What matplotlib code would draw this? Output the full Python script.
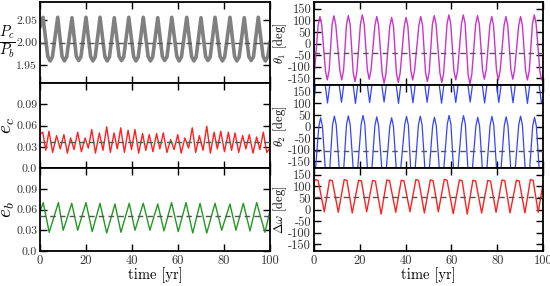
import numpy as np
import matplotlib
matplotlib.use('Agg')
import matplotlib.pyplot as plt
from matplotlib.ticker import FixedLocator, FixedFormatter

plt.rcParams['font.family'] = 'serif'
plt.rcParams['font.serif'] = ['cmr10']
plt.rcParams['mathtext.fontset'] = 'cm'
plt.rcParams['axes.unicode_minus'] = False

# ---------------- data ----------------
# period ratio Pc/Pb
pr_peak_t = [1.3, 7.7, 13.9, 20.0, 26.1, 32.3, 38.6, 44.9, 51.2, 57.3, 63.8, 70.0, 76.1, 82.6, 88.8, 94.9]
pr_peak_v = [2.056, 2.056, 2.055, 2.056, 2.056, 2.055, 2.056, 2.056, 2.055, 2.056, 2.056, 2.055, 2.056, 2.056, 2.055, 2.056]
pr_trough_t = [4.4, 10.6, 16.8, 23.0, 29.2, 35.4, 41.7, 48.0, 54.2, 60.5, 66.9, 73.0, 79.3, 85.6, 91.8, 98.0]
pr_trough_v = [1.959, 1.959, 1.960, 1.959, 1.959, 1.960, 1.959, 1.959, 1.960, 1.959, 1.959, 1.960, 1.959, 1.959, 1.960, 1.959]
pr_shoulder_t = [3.4, 5.4, 9.6, 11.6, 15.8, 17.8, 22.0, 24.0, 28.2, 30.2, 34.4, 36.4, 40.7, 42.7, 47.0, 49.0,
                 53.2, 55.2, 59.5, 61.5, 65.9, 67.9, 72.0, 74.0, 78.3, 80.3, 84.6, 86.6, 90.8, 92.8, 97.0, 99.0]
pr_shoulder_v = [1.969, 1.968, 1.969, 1.968, 1.969, 1.968, 1.969, 1.968, 1.969, 1.968, 1.969, 1.968, 1.969, 1.968,
                 1.969, 1.968, 1.969, 1.968, 1.969, 1.968, 1.969, 1.968, 1.969, 1.968, 1.969, 1.968, 1.969, 1.968,
                 1.969, 1.968, 1.969, 1.968]
pr_ends_t = [0.0, 100.0]
pr_ends_v = [2.035, 2.000]
pr_ref = 2.00

# ec
ec_peak_t = [1.2, 3.9, 7.2, 10.4, 13.3, 16.4, 19.6, 22.5, 25.8, 29.0, 32.2, 35.1, 38.3, 41.3, 44.6, 47.5,
             50.7, 53.6, 56.8, 59.9, 63.0, 66.2, 69.3, 72.5, 75.7, 78.6, 81.9, 84.8, 88.1, 91.0, 94.2, 97.1]
ec_peak_v = [0.0505, 0.0519, 0.0457, 0.0471, 0.0424, 0.0505, 0.0424, 0.0543, 0.0495, 0.0581, 0.0495, 0.0567,
             0.0533, 0.0543, 0.0486, 0.0471, 0.0486, 0.0495, 0.0400, 0.0471, 0.0424, 0.0567, 0.0457, 0.0590,
             0.0505, 0.0519, 0.0505, 0.0495, 0.0457, 0.0471, 0.0438, 0.0505]
ec_trough_t = [2.5, 5.5, 8.8, 11.9, 14.8, 18.0, 21.0, 24.1, 27.4, 30.6, 33.6, 36.7, 39.8, 42.9, 46.0, 49.1,
               52.1, 55.2, 58.3, 61.4, 64.6, 67.7, 70.9, 74.1, 77.1, 80.2, 83.3, 86.4, 89.5, 92.6, 95.6, 98.6]
ec_trough_v = [0.025, 0.022, 0.027, 0.021, 0.026, 0.023, 0.028, 0.021, 0.025, 0.022, 0.027, 0.022, 0.026, 0.021,
               0.025, 0.023, 0.027, 0.022, 0.026, 0.021, 0.028, 0.022, 0.025, 0.021, 0.027, 0.023, 0.025, 0.022,
               0.027, 0.021, 0.026, 0.022]
ec_ends_t = [0.0, 100.0]
ec_ends_v = [0.048, 0.028]
ec_ref = 0.037

# eb
eb_peak_t = [1.4, 8.0, 13.8, 20.0, 26.1, 32.6, 38.8, 44.9, 51.2, 57.2, 63.5, 69.6, 76.1, 82.6, 88.4, 94.2]
eb_peak_v = [0.070, 0.070, 0.069, 0.070, 0.069, 0.068, 0.069, 0.069, 0.068, 0.070, 0.070, 0.069, 0.069, 0.068, 0.069, 0.070]
eb_trough_t = [4.0, 10.1, 16.4, 22.7, 29.0, 35.2, 41.3, 47.8, 53.9, 60.1, 66.4, 72.5, 79.0, 85.2, 91.3, 97.8]
eb_trough_v = [0.027, 0.030, 0.030, 0.028, 0.026, 0.027, 0.030, 0.030, 0.029, 0.028, 0.026, 0.026, 0.030, 0.030, 0.029, 0.027]
eb_ends_t = [0.0, 100.0]
eb_ends_v = [0.057, 0.058]
eb_ref = 0.05

# theta1
t1_peak_t = [2.6, 8.7, 15.0, 21.1, 27.4, 33.9, 40.2, 46.6, 52.5, 58.9, 65.2, 71.4, 77.6, 83.8, 90.2, 96.2]
t1_peak_v = [117, 120, 121, 124, 117, 113, 113, 117, 121, 124, 124, 121, 117, 117, 117, 124]
t1_cap_t = [1.8, 3.4, 7.9, 9.5, 14.2, 15.8, 20.3, 21.9, 26.6, 28.2, 33.1, 34.7, 39.4, 41.0, 45.8, 47.4,
            51.7, 53.3, 58.1, 59.7, 64.4, 66.0, 70.6, 72.2, 76.8, 78.4, 83.0, 84.6, 89.4, 91.0, 95.4, 97.0]
t1_cap_v = [79, 79, 82, 82, 83, 83, 86, 86, 79, 79, 75, 75, 75, 75, 79, 79,
            83, 83, 86, 86, 86, 86, 83, 83, 79, 79, 79, 79, 79, 79, 86, 86]
t1_trough_t = [5.8, 12.1, 17.9, 24.1, 30.6, 36.8, 43.1, 49.5, 55.8, 61.9, 68.1, 74.4, 80.5, 86.8, 93.2, 99.4]
t1_trough_v = [-158, -158, -165, -155, -172, -169, -158, -165, -169, -158, -175, -155, -158, -155, -158, -158]
t1_cup_t = [5.0, 6.6, 11.3, 12.9, 17.1, 18.7, 23.3, 24.9, 29.8, 31.4, 36.0, 37.6, 42.3, 43.9, 48.7, 50.3,
            55.0, 56.6, 61.1, 62.7, 67.3, 68.9, 73.6, 75.2, 79.7, 81.3, 86.0, 87.6, 92.4, 94.0, 98.6]
t1_cup_v = [-118, -118, -118, -118, -125, -125, -115, -115, -132, -132, -129, -129, -118, -118, -125, -125,
            -129, -129, -118, -118, -135, -135, -115, -115, -118, -118, -115, -115, -118, -118, -118]
t1_ends_t = [0.0, 100.0]
t1_ends_v = [-150, -145]
t1_ref = -42

# theta2 (wraps at +-180)
t2_peak_t = [2.9, 8.9, 15.0, 21.4, 27.4, 33.9, 40.4, 46.4, 52.6, 59.0, 65.3, 71.5, 77.7, 83.9, 90.2, 96.3]
t2_peak_v = [38, 45, 46, 48, 42, 38, 44, 45, 40, 48, 47, 40, 44, 42, 45, 40]
t2_cap_t = [2.1, 3.7, 8.1, 9.7, 14.2, 15.8, 20.6, 22.2, 26.6, 28.2, 33.1, 34.7, 39.6, 41.2, 45.6, 47.2,
            51.8, 53.4, 58.2, 59.8, 64.5, 66.1, 70.7, 72.3, 76.9, 78.5, 83.1, 84.7, 89.4, 91.0, 95.5, 97.1]
t2_cap_v = [0, 0, 7, 7, 8, 8, 10, 10, 4, 4, 0, 0, 6, 6, 7, 7, 2, 2, 10, 10, 9, 9, 2, 2, 6, 6, 4, 4, 7, 7, 2, 2]
t2_trough_t = [5.9, 12.0, 18.1, 24.3, 30.6, 36.9, 43.2, 49.4, 55.7, 61.9, 68.2, 74.5, 80.7, 86.9, 93.2, 99.3]
t2_trough_v = [102, 105, 100, 104, 106, 100, 103, 105, 101, 104, 106, 102, 104, 103, 100, 104]
t2_down_t = [4.9, 11.0, 17.1, 23.3, 29.6, 35.9, 42.2, 48.4, 54.7, 60.9, 67.2, 73.5, 79.7, 85.9, 92.2, 98.3]
t2_up_t = [0.7, 6.9, 13.0, 19.1, 25.3, 31.6, 37.9, 44.2, 50.4, 56.7, 62.9, 69.2, 75.5, 81.7, 87.9, 94.2]
t2_ends_t = [0.0, 100.0]
t2_ends_v = [105, 112]
t2_ref = -105

# delta omega
dw_top_a_t = [0.6, 6.8, 13.2, 19.5, 25.6, 31.8, 38.1, 44.5, 50.8, 56.9, 63.5, 69.4, 75.9, 82.1, 88.4, 94.5]
dw_top_a_v = [130, 128, 130, 127, 126, 128, 127, 130, 128, 131, 128, 127, 126, 128, 127, 130]
dw_top_b_t = [1.8, 8.0, 14.4, 20.7, 26.8, 33.0, 39.3, 45.7, 52.0, 58.1, 64.7, 70.6, 77.1, 83.3, 89.6, 95.7]
dw_top_b_v = [126, 125, 126, 124, 123, 125, 124, 126, 125, 127, 125, 124, 123, 125, 124, 126]
dw_trough_t = [4.5, 10.6, 16.7, 23.0, 29.3, 35.7, 41.9, 48.2, 54.3, 60.8, 66.9, 73.2, 79.5, 85.6, 92.1, 97.9]
dw_trough_v = [-10, -12, -15, -10, -20, -12, -10, -15, -10, -18, -20, -15, -12, -15, -15, -12]
dw_ends_t = [0.0, 100.0]
dw_ends_v = [118, 112]
dw_ref = 55

xticks = [0, 20, 40, 60, 80, 100]
xticklabels = ['0', '20', '40', '60', '80', '100']
pr_ticks = [1.95, 2.00, 2.05]
pr_ticklabels = ['1.95', '2.00', '2.05']
e_ticks = [0.0, 0.03, 0.06, 0.09]
e_ticklabels = ['0.0', '0.03', '0.06', '0.09']
ang_ticks = [-150, -100, -50, 0, 50, 100, 150]
ang_ticklabels = ['-150', '-100', '-50', '0', '50', '100', '150']


def join(*lists):
    ts, vs = [], []
    for i in range(0, len(lists), 2):
        ts += list(lists[i])
        vs += list(lists[i + 1])
    order = np.argsort(ts, kind='stable')
    return np.asarray(ts)[order], np.asarray(vs)[order]


# ---------------- figure ----------------
fig = plt.figure(figsize=(5.5, 2.86), dpi=100)
W, H = 550.0, 286.0


def mk(x0, x1, y0, y1):
    return fig.add_axes([x0 / W, 1 - y1 / H, (x1 - x0) / W, (y1 - y0) / H])


axL = [mk(40, 270, 2, 83), mk(40, 270, 83, 168), mk(40, 270, 168, 251)]
axR = [mk(314, 543, 2, 85), mk(314, 543, 85, 168), mk(314, 543, 168, 251)]

dash_kw = dict(color='#555555', lw=1.0, dashes=(4, 3), zorder=3)

# Pc/Pb
ax = axL[0]
t, v = join(pr_peak_t, pr_peak_v, pr_trough_t, pr_trough_v, pr_shoulder_t, pr_shoulder_v, pr_ends_t, pr_ends_v)
ax.plot(t, v, color='#808080', lw=2.6, solid_joinstyle='round')
ax.axhline(pr_ref, **dash_kw)
ax.set_ylim(1.91, 2.09)
ax.yaxis.set_major_locator(FixedLocator(pr_ticks))
ax.yaxis.set_major_formatter(FixedFormatter(pr_ticklabels))
ax.set_ylabel(r'$\frac{P_c}{P_b}$', fontsize=15, rotation=0, va='center', ha='center')
ax.yaxis.set_label_coords(-0.14, 0.5)

# ec
ax = axL[1]
t, v = join(ec_peak_t, ec_peak_v, ec_trough_t, ec_trough_v, ec_ends_t, ec_ends_v)
ax.plot(t, v, color='#ff2020', lw=1.0)
ax.axhline(ec_ref, **dash_kw)
ax.set_ylim(0.0, 0.12)
ax.yaxis.set_major_locator(FixedLocator(e_ticks))
ax.yaxis.set_major_formatter(FixedFormatter(e_ticklabels))
ax.set_ylabel(r'$e_c$', fontsize=14)
ax.yaxis.set_label_coords(-0.1, 0.5)

# eb
ax = axL[2]
t, v = join(eb_peak_t, eb_peak_v, eb_trough_t, eb_trough_v, eb_ends_t, eb_ends_v)
ax.plot(t, v, color='#229922', lw=1.0)
ax.axhline(eb_ref, **dash_kw)
ax.set_ylim(0.0, 0.12)
ax.yaxis.set_major_locator(FixedLocator(e_ticks))
ax.yaxis.set_major_formatter(FixedFormatter(e_ticklabels))
ax.set_ylabel(r'$e_b$', fontsize=14)
ax.yaxis.set_label_coords(-0.1, 0.5)

# theta1
ax = axR[0]
t, v = join(t1_peak_t, t1_peak_v, t1_cap_t, t1_cap_v, t1_trough_t, t1_trough_v,
            t1_cup_t, t1_cup_v, t1_ends_t, t1_ends_v)
ax.plot(t, v, color='#cc33cc', lw=1.0)
ax.axhline(t1_ref, **dash_kw)
ax.set_ylabel(r'$\theta_1$ [deg]', fontsize=9)

# theta2 with wrapping segments
ax = axR[1]
segs_t, segs_v = [], []
segs_t += [t2_ends_t[0], t2_up_t[0], np.nan]
segs_v += [t2_ends_v[0], 180, np.nan]
for i in range(len(t2_peak_t)):
    segs_t += [t2_up_t[i], t2_cap_t[2 * i], t2_peak_t[i], t2_cap_t[2 * i + 1], t2_down_t[i], np.nan]
    segs_v += [-180, t2_cap_v[2 * i], t2_peak_v[i], t2_cap_v[2 * i + 1], -180, np.nan]
    if i + 1 < len(t2_up_t):
        segs_t += [t2_down_t[i], t2_trough_t[i], t2_up_t[i + 1], np.nan]
        segs_v += [180, t2_trough_v[i], 180, np.nan]
    else:
        segs_t += [t2_down_t[i], t2_trough_t[i], t2_ends_t[1]]
        segs_v += [180, t2_trough_v[i], t2_ends_v[1]]
ax.plot(segs_t, segs_v, color='#3344ff', lw=0.9)
ax.axhline(t2_ref, **dash_kw)
ax.set_ylabel(r'$\theta_2$ [deg]', fontsize=9)

# delta omega
ax = axR[2]
t, v = join(dw_top_a_t, dw_top_a_v, dw_top_b_t, dw_top_b_v, dw_trough_t, dw_trough_v, dw_ends_t, dw_ends_v)
ax.plot(t, v, color='#ff2020', lw=1.0)
ax.axhline(dw_ref, **dash_kw)
ax.set_ylabel(r'$\Delta\omega$ [deg]', fontsize=9)

for ax in axR:
    ax.set_ylim(-180, 180)
    ax.yaxis.set_major_locator(FixedLocator(ang_ticks))
    ax.yaxis.set_major_formatter(FixedFormatter(ang_ticklabels))
    ax.yaxis.set_label_coords(-0.108, 0.5)

for col, lsize in ((axL, 8.5), (axR, 9)):
    for i, ax in enumerate(col):
        ax.set_xlim(0, 100)
        ax.xaxis.set_major_locator(FixedLocator(xticks))
        if i == 2:
            ax.xaxis.set_major_formatter(FixedFormatter(xticklabels))
            ax.set_xlabel('time [yr]', fontsize=10.5, labelpad=0)
        else:
            ax.set_xticklabels([])
        ax.tick_params(direction='in', length=5, width=1.0, top=True, right=True,
                       labelsize=lsize, colors='black', labelcolor='#333333', pad=2)
        ax.tick_params(axis='x', pad=3, labelsize=9)
        for s in ax.spines.values():
            s.set_linewidth(1.3)
        ax.minorticks_off()

fig.savefig('out.png', dpi=100)
